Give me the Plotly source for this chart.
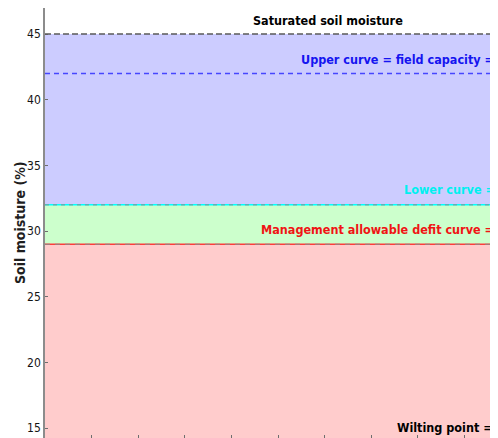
import plotly.graph_objects as go

# ---- data ----
band_names = ["Field capacity zone", "Readily available zone", "Stress zone"]
band_bottoms = [32, 29, 14]
band_tops = [45, 32, 29]
band_colors = ["rgb(204,204,255)", "rgb(204,255,204)", "rgb(255,204,204)"]

line_levels = [45, 42, 32, 29]
line_colors = ["rgb(90,90,90)", "rgb(70,70,255)", "rgb(0,255,255)", "rgb(255,60,60)"]

label_texts = ["Saturated soil moisture", "Upper curve = field capacity =42",
               "Lower curve =32", "Management allowable defit curve =29",
               "Wilting point = 14"]
label_x = [4.42, 5.46, 7.66, 4.6, 7.51]
label_y = [46.0, 43.04, 33.16, 30.12, 15.07]
label_colors = ["black", "rgb(20,20,240)", "rgb(0,240,240)", "rgb(240,20,20)", "black"]

y_ticks = [15, 20, 25, 30, 35, 40, 45]
x_ticks = list(range(0, 10))

FONT = "DejaVu Sans Condensed, DejaVu Sans, sans-serif"

fig = go.Figure()

for b, t, c in zip(band_bottoms, band_tops, band_colors):
    fig.add_hrect(y0=b, y1=t, fillcolor=c, line_width=0, layer="below")

fig.add_hline(y=line_levels[2], line=dict(color=line_colors[2], width=1.5))
fig.add_hline(y=line_levels[3], line=dict(color=line_colors[3], width=1.5))
fig.add_hline(y=line_levels[0], line=dict(color=line_colors[0], width=1.5, dash="6px,3px"))
fig.add_hline(y=line_levels[1], line=dict(color=line_colors[1], width=1.5, dash="5px,4px"))
fig.add_hline(y=line_levels[2], line=dict(color="rgb(140,140,140)", width=1, dash="4px,4px"))
fig.add_hline(y=line_levels[3], line=dict(color="rgb(140,140,140)", width=1, dash="5px,5px"))

for txt, x, y, c in zip(label_texts, label_x, label_y, label_colors):
    fig.add_annotation(x=x, y=y, xref="x", yref="y", text="<b>" + txt + "</b>",
                       showarrow=False, xanchor="left", yanchor="middle",
                       font=dict(family=FONT, size=12.5, color=c))

fig.add_annotation(x=-25 / 453, y=0.5, xref="paper", yref="paper",
                   text="<b>Soil moisture (%)</b>", textangle=-90, showarrow=False,
                   xanchor="center", yanchor="middle",
                   font=dict(family=FONT, size=14, color="rgb(30,30,30)"))

fig.add_trace(go.Scatter(x=[None], y=[None], showlegend=False))

fig.update_layout(
    width=490, height=430,
    margin=dict(l=37, r=0, t=0, b=0),
    paper_bgcolor="white", plot_bgcolor="white",
    showlegend=False,
    xaxis=dict(range=[0, 9.72], tickvals=x_ticks, showticklabels=False,
               ticks="inside", ticklen=3, tickcolor="rgb(110,110,110)",
               showgrid=False, zeroline=False, showline=False),
    yaxis=dict(range=[14.26, 46.98], tickvals=y_ticks, ticks="inside", ticklen=3,
               tickcolor="rgb(110,110,110)", showgrid=False, zeroline=False,
               showline=True, linecolor="rgb(140,140,140)", linewidth=1.5,
               tickfont=dict(family=FONT, size=12, color="rgb(20,20,20)")),
)

fig.write_html("out.html")
